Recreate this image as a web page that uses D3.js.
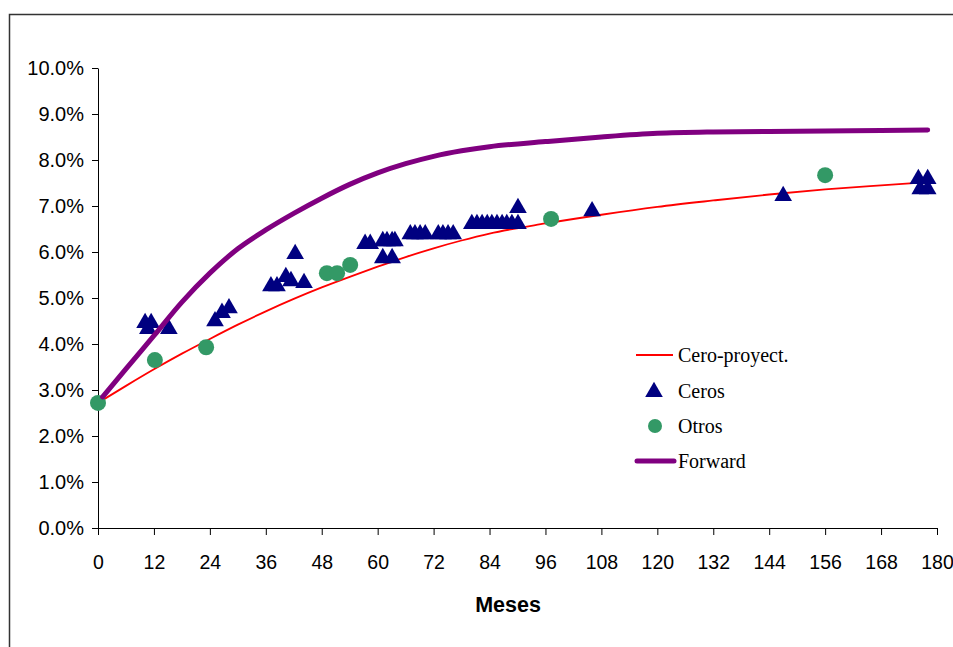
<!DOCTYPE html>
<html>
<head>
<meta charset="utf-8">
<script src="https://cdn.jsdelivr.net/npm/d3@7"></script>
<style>
  body { margin: 0; background: #fff; }
  svg { display: block; }
</style>
</head>
<body>
<div id="chart"></div>
<script>
// curves (months, rate in %)
const cerosCurveMonths = [0, 6, 12, 18, 24, 30, 36, 42, 48, 54, 60, 66, 72, 78, 84, 96, 108, 120, 132, 144, 156, 168, 178]
const cerosCurveRates = [2.72, 3.09, 3.45, 3.79, 4.11, 4.42, 4.71, 4.98, 5.23, 5.46, 5.68, 5.89, 6.08, 6.25, 6.40, 6.62, 6.81, 6.98, 7.12, 7.25, 7.36, 7.45, 7.52]

const forwardMonths = [1, 6, 12, 18, 24, 30, 36, 42, 48, 54, 60, 66, 72, 78, 84, 96, 108, 120, 132, 144, 156, 168, 178]
const forwardRates = [2.85, 3.46, 4.18, 4.91, 5.54, 6.07, 6.48, 6.84, 7.17, 7.47, 7.72, 7.92, 8.08, 8.20, 8.29, 8.40, 8.50, 8.58, 8.61, 8.62, 8.63, 8.64, 8.65]

// observed points
const cerosMonths = [10.1, 11.4, 10.7, 15.2, 25.1, 26.6, 28.1, 37.1, 38.4, 40.3, 41.4, 42.3, 44.2,
    57.3, 58.4, 61.1, 62.0, 63.1, 63.7, 61.1, 63.1, 67.0, 68.0, 69.1, 70.2, 73.0, 74.0, 75.1, 76.2,
    80.2, 81.3, 82.4, 83.5, 84.5, 85.6, 86.7, 87.7, 88.8, 90.1, 90.1, 106.0, 147.0, 176.0, 178.0, 176.4, 178.0]
const cerosRates = [4.48, 4.48, 4.35, 4.35, 4.52, 4.70, 4.80, 5.28, 5.28, 5.48, 5.39, 5.98, 5.35,
    6.20, 6.20, 6.26, 6.26, 6.26, 6.26, 5.89, 5.89, 6.41, 6.41, 6.41, 6.41, 6.41, 6.41, 6.41, 6.41,
    6.63, 6.63, 6.63, 6.63, 6.63, 6.63, 6.63, 6.63, 6.63, 6.63, 6.98, 6.91, 7.24, 7.61, 7.61, 7.39, 7.39]

const otrosMonths = [0, 12.2, 23.2, 49.1, 51.3, 54.1, 97.2, 156.0]
const otrosRates = [2.72, 3.65, 3.93, 5.54, 5.54, 5.72, 6.72, 7.67]

const xTicks = [0, 12, 24, 36, 48, 60, 72, 84, 96, 108, 120, 132, 144, 156, 168, 180]
const yTicks = [0, 1, 2, 3, 4, 5, 6, 7, 8, 9, 10]
const legendLabels = ["Cero-proyect.", "Ceros", "Otros", "Forward"]

const width = 953
const height = 647
const margin = ({top: 68, right: 16, bottom: 119, left: 98})

const svg = d3.select("#chart").append("svg")
    .attr("width", width)
    .attr("height", height)

// outer chart frame, runs off the right and bottom edges
svg.append("rect")
    .attr("x", 9.5)
    .attr("y", 14.5)
    .attr("width", 1000)
    .attr("height", 700)
    .attr("fill", "none")
    .attr("stroke", "#333")
    .attr("stroke-width", 1.5)

const x = d3.scaleLinear().domain([0, 180]).range([margin.left, width - margin.right])
const y = d3.scaleLinear().domain([0, 10]).range([height - margin.bottom, margin.top])

const xAxis = svg.append("g")
    .attr("transform", `translate(0,${height - margin.bottom})`)
    .call(d3.axisBottom(x).tickValues(xTicks).tickSize(7).tickPadding(20).tickSizeOuter(0))
xAxis.selectAll("text")
    .attr("font-family", "'Liberation Sans', Arial, sans-serif")
    .attr("font-size", 19.5)
    .attr("fill", "#000")

const yAxis = svg.append("g")
    .attr("transform", `translate(${margin.left},0)`)
    .call(d3.axisLeft(y).tickValues(yTicks).tickSize(6).tickPadding(8).tickSizeOuter(0)
        .tickFormat(d => d3.format(".1f")(d) + "%"))
yAxis.selectAll("text")
    .attr("font-family", "'Liberation Sans', Arial, sans-serif")
    .attr("font-size", 20)
    .attr("fill", "#000")

svg.selectAll(".domain, .tick line").attr("stroke", "#000")

svg.append("text")
    .attr("x", 508)
    .attr("y", 612)
    .attr("text-anchor", "middle")
    .attr("font-family", "'Liberation Sans', Arial, sans-serif")
    .attr("font-weight", "bold")
    .attr("font-size", 21.5)
    .text("Meses")

const line = d3.line()
    .x(d => x(d[0]))
    .y(d => y(d[1]))
    .curve(d3.curveMonotoneX)

const plot = svg.append("g")

plot.append("path")
    .datum(d3.zip(cerosCurveMonths, cerosCurveRates))
    .attr("fill", "none")
    .attr("stroke", "#ff0000")
    .attr("stroke-width", 1.8)
    .attr("d", line)

const triangle = d3.symbol().type(d3.symbolTriangle).size(135)

plot.append("g")
    .selectAll("path")
    .data(d3.zip(cerosMonths, cerosRates))
    .join("path")
        .attr("transform", d => `translate(${x(d[0])},${y(d[1]) + 1})`)
        .attr("d", triangle)
        .attr("fill", "#000080")

plot.append("g")
    .selectAll("circle")
    .data(d3.zip(otrosMonths, otrosRates))
    .join("circle")
        .attr("cx", d => x(d[0]))
        .attr("cy", d => y(d[1]))
        .attr("r", 8)
        .attr("fill", "#339966")

plot.append("path")
    .datum(d3.zip(forwardMonths, forwardRates))
    .attr("fill", "none")
    .attr("stroke", "#800080")
    .attr("stroke-width", 5)
    .attr("stroke-linecap", "round")
    .attr("d", line)

// legend, no box
const legend = svg.append("g")
    .attr("font-family", "'Liberation Serif', 'Times New Roman', serif")
    .attr("font-size", 20)

const rowY = [355, 391, 426, 461]

legend.append("line")
    .attr("x1", 636).attr("x2", 673)
    .attr("y1", rowY[0]).attr("y2", rowY[0])
    .attr("stroke", "#ff0000")
    .attr("stroke-width", 1.8)
legend.append("path")
    .attr("transform", `translate(654,${rowY[1] + 1})`)
    .attr("d", triangle)
    .attr("fill", "#000080")
legend.append("circle")
    .attr("cx", 655)
    .attr("cy", rowY[2])
    .attr("r", 7)
    .attr("fill", "#339966")
legend.append("line")
    .attr("x1", 637).attr("x2", 674)
    .attr("y1", rowY[3]).attr("y2", rowY[3])
    .attr("stroke", "#800080")
    .attr("stroke-width", 5)
    .attr("stroke-linecap", "round")

legend.selectAll("text")
    .data(legendLabels)
    .join("text")
        .attr("x", 678)
        .attr("y", (d, i) => rowY[i] + 7)
        .text(d => d)
</script>
</body>
</html>
